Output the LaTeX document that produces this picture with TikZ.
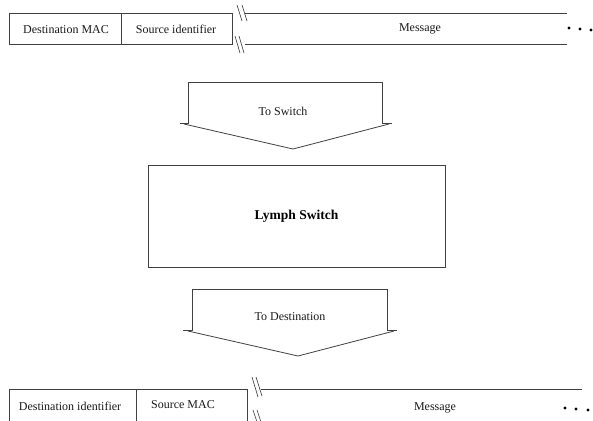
\documentclass[tikz,border=0pt]{standalone}
\usepackage{fontspec}
\setmainfont{Liberation Serif}
\begin{document}
\begin{tikzpicture}[x=1pt,y=-1pt,
  ln/.style={draw=black!75,line width=0.9pt},
  fld/.style={font=\fontsize{12}{14}\selectfont,inner sep=0pt,text=black!90},
  lbl/.style={font=\fontsize{12}{14}\selectfont,inner sep=0pt,text=black!90},
  dotm/.style={fill=black,draw=none}]
\useasboundingbox (0,0) rectangle (593,420);
% ---------- top frame ----------
\coordinate (t1) at (9,13);
\coordinate (t2) at (232,13);
\coordinate (t3) at (245,13);
\coordinate (t4) at (567,13);
\coordinate (b1) at (9,44);
\coordinate (b2) at (232,44);
\coordinate (b3) at (245,44);
\coordinate (b4) at (567,44);
\draw[ln] (t2) -- (t1) -- (b1) -- (b2) -- (t2);
\draw[ln] (121,13) -- (121,44);
\draw[ln] (t3) -- (t4);
\draw[ln] (b3) -- (b4);
\draw[draw=black!80,line width=0.6pt] (237,5) -- (242,21) (242,5) -- (247,21);
\draw[draw=black!80,line width=0.6pt] (235,36) -- (240,53) (239,36) -- (244,53);
\node[fld] (dmac) at (66,30) {Destination MAC};
\node[fld] (sid) at (176,29) {Source identifier};
\node[fld] (msg1) at (420,29) {Message};
\fill[dotm] (569,28) circle (1.6) (580,29) circle (1.6) (591,30) circle (1.6);
% ---------- arrow 1 ----------
\draw[ln,line width=0.8pt] (180,123) -- (188,123) -- (188,82) -- (382,82) -- (382,123) -- (392,123);
\draw[ln,line width=0.8pt] (184,124) -- (293,149) -- (389,124);
\node[lbl] (toswitch) at (283,111) {To Switch};
% ---------- switch ----------
\node[draw=black!75,line width=1pt,minimum width=297pt,minimum height=102pt,inner sep=0pt] (sw) at (296.5,216) {};
\node[font=\fontsize{13.5}{15}\selectfont\bfseries,inner sep=0pt] (swl) at (sw.center) {Lymph Switch};
% ---------- arrow 2 ----------
\draw[ln,line width=0.8pt] (183,330) -- (192,330) -- (192,289) -- (387,289) -- (387,330) -- (397,330);
\draw[ln,line width=0.8pt] (188,331) -- (298,356) -- (394,331);
\node[lbl] (todest) at (290,317) {To Destination};
% ---------- bottom frame ----------
\draw[ln] (9,425) -- (9,389) -- (247,389) -- (247,425);
\draw[ln] (136,389) -- (136,425);
\draw[ln] (261,389) -- (582,389);
\draw[draw=black!80,line width=0.6pt] (252,377) -- (258,397) (256,377) -- (262,396);
\draw[draw=black!80,line width=0.6pt] (253,410) -- (257,422) (257,410) -- (261,422);
\node[fld] (did) at (70,406) {Destination identifier};
\node[fld] (smac) at (183,405) {Source MAC};
\node[fld] (msg2) at (435,408) {Message};
\fill[dotm] (565,408) circle (1.6) (576,409) circle (1.6) (588,410) circle (1.6);
\end{tikzpicture}
\end{document}
